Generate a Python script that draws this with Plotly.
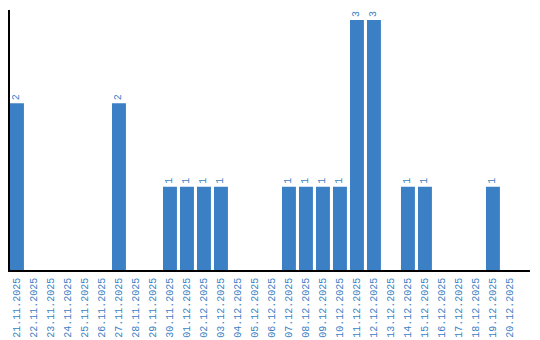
import plotly.graph_objects as go

dates = ["21.11.2025","22.11.2025","23.11.2025","24.11.2025","25.11.2025","26.11.2025",
         "27.11.2025","28.11.2025","29.11.2025","30.11.2025","01.12.2025","02.12.2025",
         "03.12.2025","04.12.2025","05.12.2025","06.12.2025","07.12.2025","08.12.2025",
         "09.12.2025","10.12.2025","11.12.2025","12.12.2025","13.12.2025","14.12.2025",
         "15.12.2025","16.12.2025","17.12.2025","18.12.2025","19.12.2025","20.12.2025"]
values = [2,0,0,0,0,0,2,0,0,1,1,1,1,0,0,0,1,1,1,1,3,3,0,1,1,0,0,0,1,0]

labels = [str(v) if v else "" for v in values]
blue = "#3b7fc4"

fig = go.Figure(go.Bar(
    x=list(range(len(dates))), y=values, text=labels,
    textposition="outside", textangle=-90, cliponaxis=False,
    textfont=dict(color=blue, size=10, family="Liberation Mono"),
    marker=dict(color=blue, line=dict(width=0)), width=0.82,
))
fig.update_layout(
    width=540, height=340, margin=dict(l=10, r=10, t=10, b=70),
    plot_bgcolor="white", paper_bgcolor="white", showlegend=False,
    xaxis=dict(range=[-0.41, 30.18], tickmode="array", tickvals=list(range(len(dates))),
               ticktext=dates, tickangle=-90, showgrid=False, zeroline=False,
               showline=True, linecolor="black", linewidth=1.5, ticks="outside",
               ticklen=2, tickcolor="rgba(0,0,0,0)", automargin=False,
               tickfont=dict(color=blue, size=10, family="Liberation Mono")),
    yaxis=dict(range=[0, 3.12], showgrid=False, zeroline=False, showticklabels=False,
               showline=True, linecolor="black", linewidth=1.5, ticks="", automargin=False),
)
fig.write_html("out.html")
